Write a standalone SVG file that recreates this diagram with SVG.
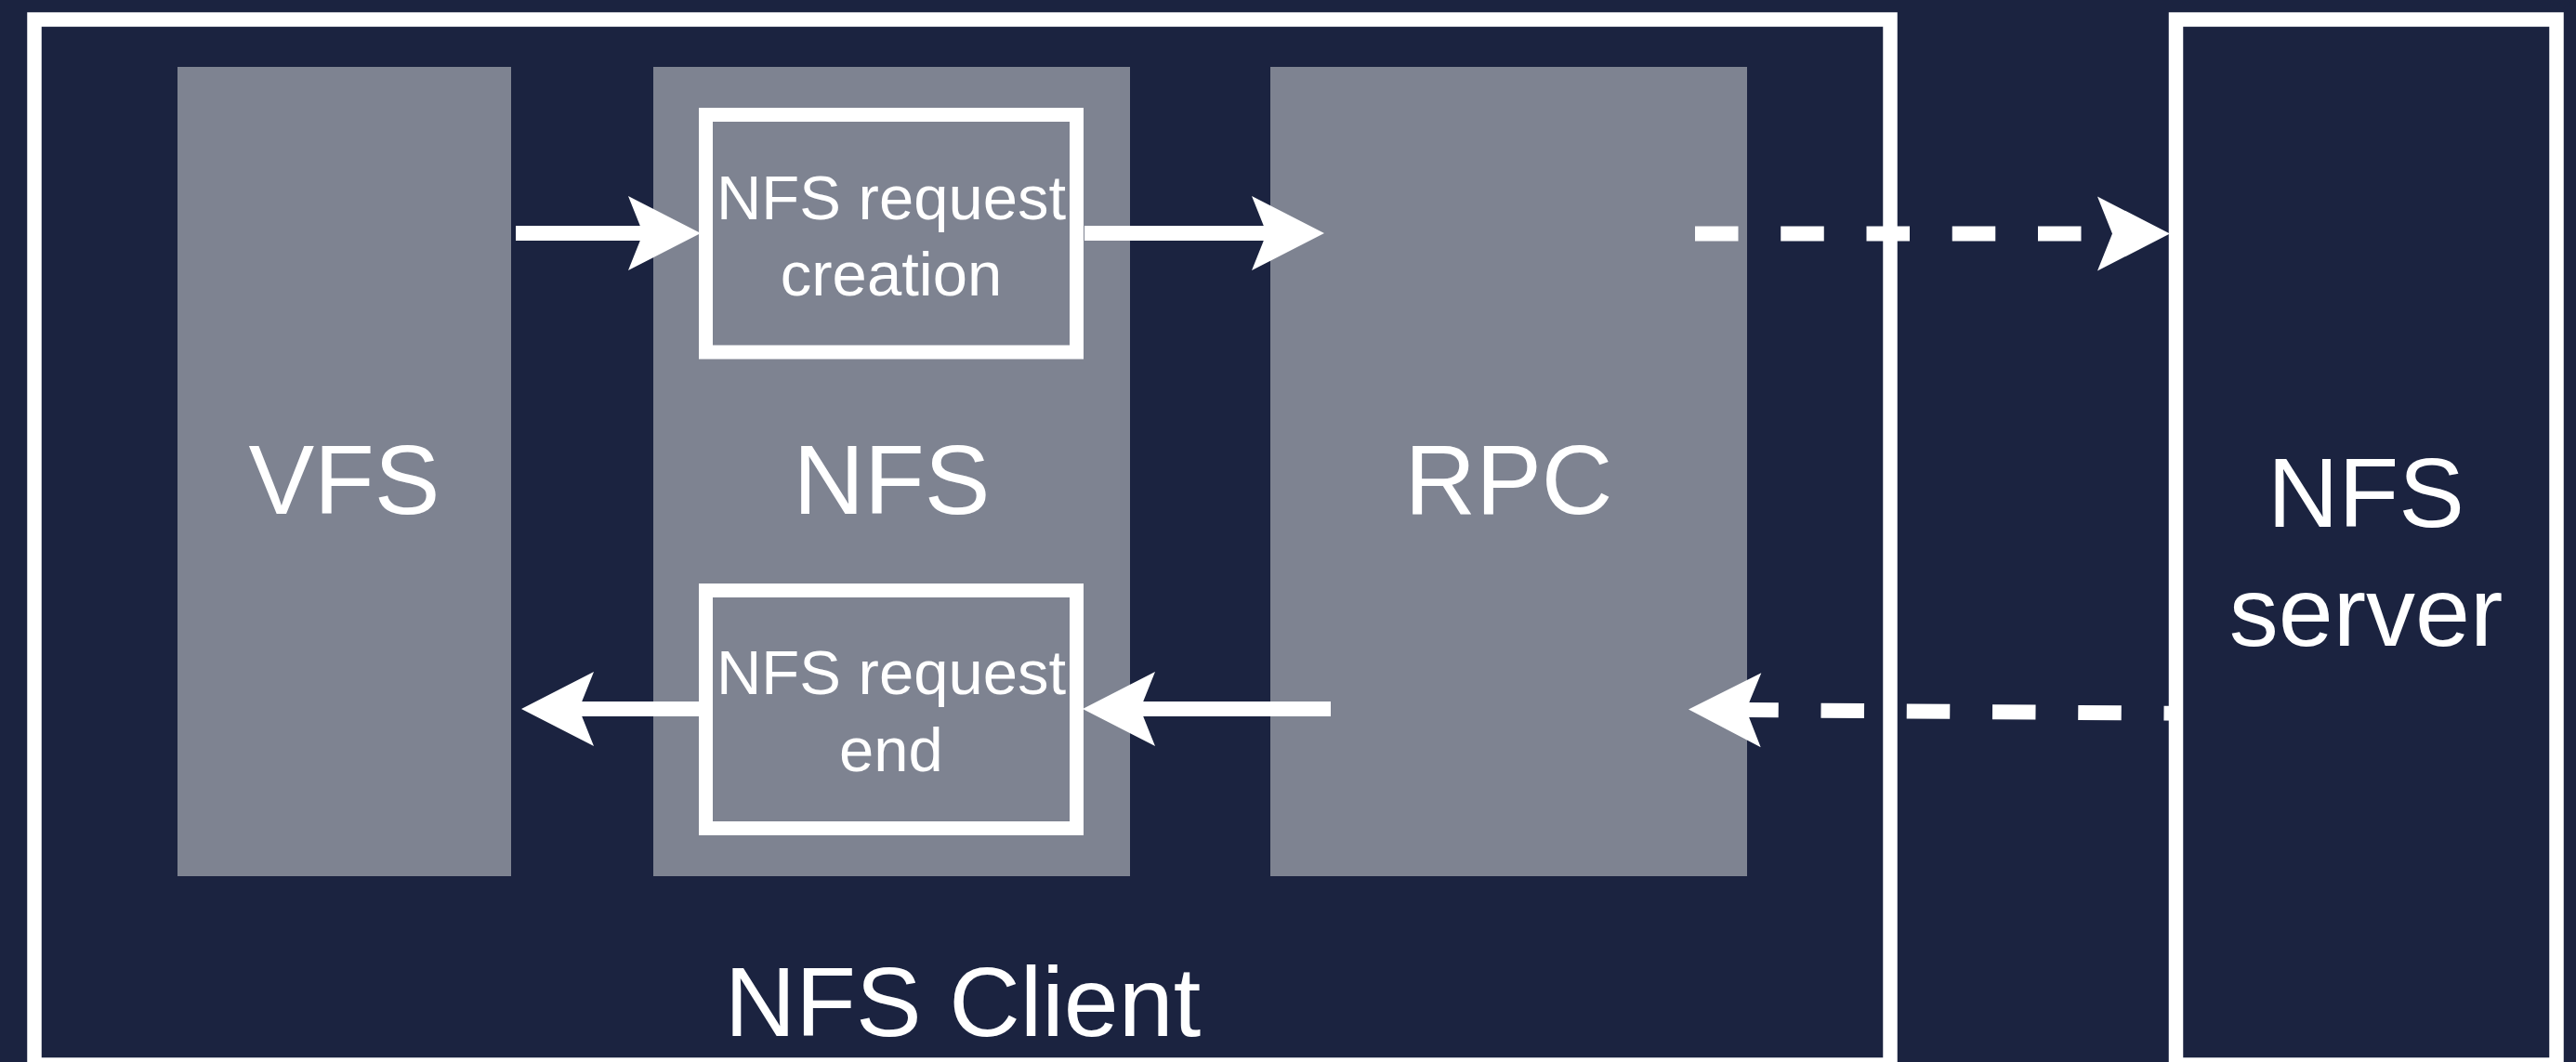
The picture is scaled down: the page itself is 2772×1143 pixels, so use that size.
<svg xmlns="http://www.w3.org/2000/svg" width="2772" height="1143" viewBox="0 0 2772 1143">
  <defs>
    <style>
      .bg { fill: #1b2340; }
      .layer { fill: #7e8391; }
      .frame { fill: #1b2340; stroke: #ffffff; stroke-width: 15.5; }
      .inner { fill: #7e8391; stroke: #ffffff; stroke-width: 15; }
      .big { font-family: "Liberation Sans", Arial, sans-serif; font-size: 106px; fill: #ffffff; text-anchor: middle; }
      .small { font-family: "Liberation Sans", Arial, sans-serif; font-size: 67px; fill: #ffffff; text-anchor: middle; }
      .conn { fill: none; stroke: #ffffff; stroke-width: 16; }
      .dash { stroke-dasharray: 46.5 45.75; }
    </style>
    <marker id="head" viewBox="-80 -41 82 82" refX="-62" refY="0" markerWidth="82" markerHeight="82" markerUnits="userSpaceOnUse" orient="auto">
      <path d="M0,0 L-78,-40 L-62,0 L-78,40 Z" fill="#ffffff"/>
    </marker>
  </defs>

  <rect class="bg" x="0" y="0" width="2772" height="1143"/>

  <g id="nfs-client">
    <rect class="frame" x="37" y="21" width="1997" height="1125"/>
    <text class="big" x="1036" y="1115">NFS Client</text>
  </g>

  <g id="vfs">
    <rect class="layer" x="191" y="72" width="359" height="871"/>
    <text class="big" x="370.5" y="553">VFS</text>
  </g>

  <g id="nfs">
    <rect class="layer" x="703" y="72" width="513" height="871"/>
    <text class="big" x="959.5" y="553">NFS</text>
  </g>

  <g id="rpc">
    <rect class="layer" x="1367" y="72" width="513" height="871"/>
    <text class="big" x="1623.5" y="553">RPC</text>
  </g>

  <g id="connectors">
    <path class="conn" d="M555,251 H692" marker-end="url(#head)"/>
    <path class="conn" d="M1167,251 H1363" marker-end="url(#head)"/>
    <path class="conn dash" d="M1824,251.5 H2273" marker-end="url(#head)"/>
    <path class="conn" d="M752,763 H623" marker-end="url(#head)"/>
    <path class="conn" d="M1432,763 H1227" marker-end="url(#head)"/>
    <path class="conn dash" d="M2375,768 L1879,764" marker-end="url(#head)"/>
  </g>

  <g id="nfs-request-creation">
    <rect class="inner" x="759.5" y="123.5" width="399" height="255.5"/>
    <text class="small" x="959" y="236">NFS request</text>
    <text class="small" x="959" y="318">creation</text>
  </g>

  <g id="nfs-request-end">
    <rect class="inner" x="759.5" y="635.5" width="399" height="256"/>
    <text class="small" x="959" y="747">NFS request</text>
    <text class="small" x="959" y="830">end</text>
  </g>

  <g id="nfs-server">
    <rect class="frame" x="2341.5" y="21" width="409.5" height="1125"/>
    <text class="big" x="2546" y="567">NFS</text>
    <text class="big" x="2546" y="695">server</text>
  </g>
</svg>
